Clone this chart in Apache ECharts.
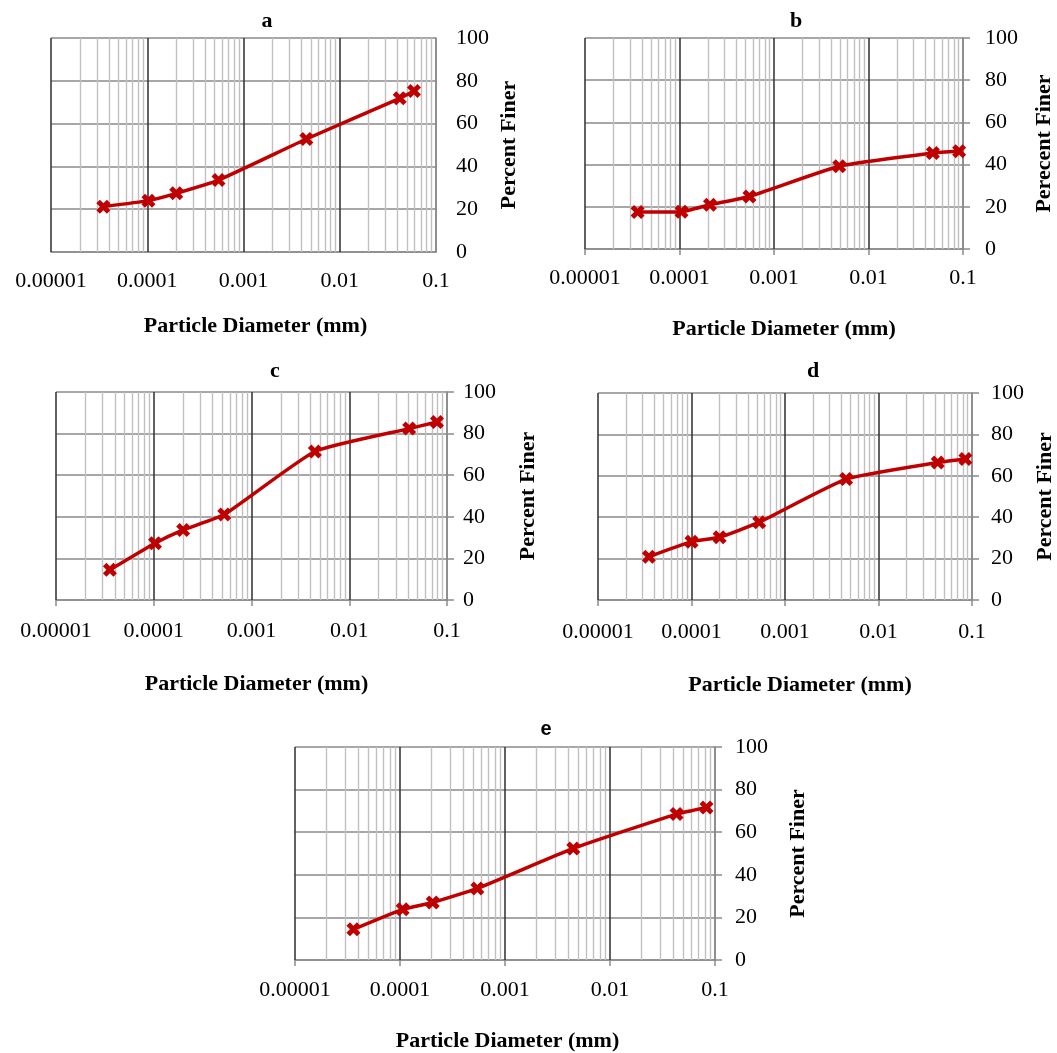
<!DOCTYPE html>
<html>
<head>
<meta charset="utf-8">
<script src="https://cdn.jsdelivr.net/npm/echarts@6/dist/echarts.min.js"></script>
<style>
  html, body { margin: 0; padding: 0; background: #fff; }
  #chart { width: 1057px; height: 1053px; }
</style>
</head>
<body>
<div id="chart"></div>
<script>
// ---- Data (particle diameter in mm, percent finer) ----
const xTickLabels = ['0.00001', '0.0001', '0.001', '0.01', '0.1'];
const decades = [0.00001, 0.0001, 0.001, 0.01, 0.1];
const yTicks = [0, 20, 40, 60, 80, 100];

const diamA = [0.000035, 0.000103, 0.0002, 0.00055, 0.0045, 0.042, 0.059];
const finerA = [21.2, 24.0, 27.4, 33.6, 52.8, 71.8, 75.2];

const diamB = [0.000036, 0.000105, 0.00021, 0.00055, 0.0049, 0.048, 0.091];
const finerB = [17.5, 17.7, 21.0, 24.9, 39.2, 45.5, 46.3];

const diamC = [0.0000356, 0.000103, 0.0002, 0.000526, 0.00445, 0.041, 0.079];
const finerC = [14.5, 27.3, 33.7, 41.1, 71.4, 82.4, 85.6];

const diamD = [0.000035, 0.0001, 0.0002, 0.00053, 0.0045, 0.043, 0.085];
const finerD = [20.9, 28.2, 30.3, 37.6, 58.4, 66.4, 68.1];

const diamE = [0.000036, 0.000106, 0.000205, 0.000545, 0.00447, 0.043, 0.083];
const finerE = [14.4, 23.8, 27.0, 33.6, 52.4, 68.5, 71.6];

const panelTitles = ['a', 'b', 'c', 'd', 'e'];
const xAxisName = 'Particle Diameter (mm)';
const yAxisNames = ['Percent Finer', 'Perecent Finer', 'Percent Finer', 'Percent Finer', 'Percent Finer'];

// ---- Layout / style ----
const serif = 'Liberation Serif';
const layout = [
  { grid: { left: 51, top: 38, width: 385, height: 214 }, title: [262, 5], ticks: false, xGap: 63, yGap: 62, xMargin: 18, yMargin: 20, nameShift: 24, titleFont: serif },
  { grid: { left: 585, top: 38, width: 378, height: 211 }, title: [791, 5], ticks: true, xGap: 69, yGap: 70, xMargin: 18, yMargin: 22, nameShift: 20, titleFont: serif },
  { grid: { left: 56, top: 392, width: 391, height: 208 }, title: [270, 355], ticks: true, xGap: 73, yGap: 70, xMargin: 20, yMargin: 16, nameShift: 10, titleFont: serif },
  { grid: { left: 598, top: 393, width: 375, height: 207 }, title: [808, 355], ticks: true, xGap: 74, yGap: 62, xMargin: 21, yMargin: 19, nameShift: 30, titleFont: serif },
  { grid: { left: 295, top: 747, width: 420, height: 213 }, title: [541, 714], ticks: true, xGap: 70, yGap: 72, xMargin: 19, yMargin: 20, nameShift: 5, titleFont: 'Liberation Sans' }
];

const seriesX = [diamA, diamB, diamC, diamD, diamE];
const seriesY = [finerA, finerB, finerC, finerD, finerE];

const RED = '#c00000';
const MINOR = '#c0c0c0';
const MAJOR = '#3a3a3a';
const GRIDGRAY = '#8a8a8a';
const X_SYMBOL = 'path://M0,3 L3,0 L6,3 L9,0 L12,3 L9,6 L12,9 L9,12 L6,9 L3,12 L0,9 L3,6 Z';

// gridline positions on log paper (axis structure, not data)
const minorLines = [];
decades.slice(0, 4).forEach(d => { for (let m = 2; m <= 9; m++) minorLines.push(m * d); });

function xLabel(v) {
  const k = Math.round(Math.log10(v)) + 5;
  return xTickLabels[k] !== undefined ? xTickLabels[k] : '';
}

const grids = [], xAxes = [], yAxes = [], titles = [], series = [];
layout.forEach((L, i) => {
  grids.push(Object.assign({}, L.grid));
  titles.push({
    text: panelTitles[i], left: L.title[0], top: L.title[1], textAlign: 'center',
    textStyle: { fontFamily: L.titleFont, fontWeight: 'bold', fontSize: i === 4 ? 20 : 22, color: '#000' }
  });
  xAxes.push({
    type: 'log', logBase: 10, gridIndex: i, min: decades[0], max: decades[4],
    name: xAxisName, nameLocation: 'middle', nameGap: L.xGap,
    nameTextStyle: { fontFamily: serif, fontWeight: 'bold', fontSize: 22, color: '#000', padding: [0, 0, 0, L.nameShift] },
    axisLine: { show: true, lineStyle: { color: GRIDGRAY, width: 1.5 } },
    axisTick: { show: L.ticks, length: 6, lineStyle: { color: GRIDGRAY, width: 1.5 } },
    minorTick: { show: false },
    splitLine: { show: false },
    axisLabel: { formatter: xLabel, fontFamily: serif, fontSize: 22, color: '#000', margin: L.xMargin, showMinLabel: true, showMaxLabel: true }
  });
  yAxes.push({
    type: 'value', gridIndex: i, position: 'right', min: 0, max: 100, interval: 20,
    name: yAxisNames[i], nameLocation: 'middle', nameRotate: 90, nameGap: L.yGap,
    nameTextStyle: { fontFamily: serif, fontWeight: 'bold', fontSize: 22, color: '#000' },
    axisLine: { show: true, lineStyle: { color: GRIDGRAY, width: 1.5 } },
    axisTick: { show: L.ticks, length: 7, lineStyle: { color: GRIDGRAY, width: 1.5 } },
    splitLine: { show: true, lineStyle: { color: GRIDGRAY, width: 1.5 } },
    axisLabel: { fontFamily: serif, fontSize: 22, color: '#000', margin: L.yMargin }
  });
  // log-paper gridlines drawn through the axis scale
  const lines = minorLines.map(v => ({ xAxis: v, lineStyle: { color: MINOR, width: 1.4, type: 'solid' } }));
  decades.forEach((v, k) => lines.push({ xAxis: v, lineStyle: { color: k === 4 ? GRIDGRAY : MAJOR, width: 1.6, type: 'solid' } }));
  series.push({
    type: 'line', xAxisIndex: i, yAxisIndex: i, z: 1, silent: true,
    data: [[decades[0], 0]], showSymbol: false, lineStyle: { width: 0 },
    markLine: { silent: true, precision: 12, symbol: ['none', 'none'], label: { show: false }, animation: false, data: lines }
  });
  series.push({
    type: 'line', xAxisIndex: i, yAxisIndex: i, z: 5,
    data: seriesX[i].map((x, j) => [x, seriesY[i][j]]),
    smooth: 0.15,
    symbol: X_SYMBOL, symbolSize: 14,
    lineStyle: { color: RED, width: 3.5 },
    itemStyle: { color: RED }
  });
});

const chart = echarts.init(document.getElementById('chart'), null, { renderer: 'canvas' });
chart.setOption({
  animation: false,
  backgroundColor: '#fff',
  title: titles,
  grid: grids,
  xAxis: xAxes,
  yAxis: yAxes,
  series: series
});
</script>
</body>
</html>
